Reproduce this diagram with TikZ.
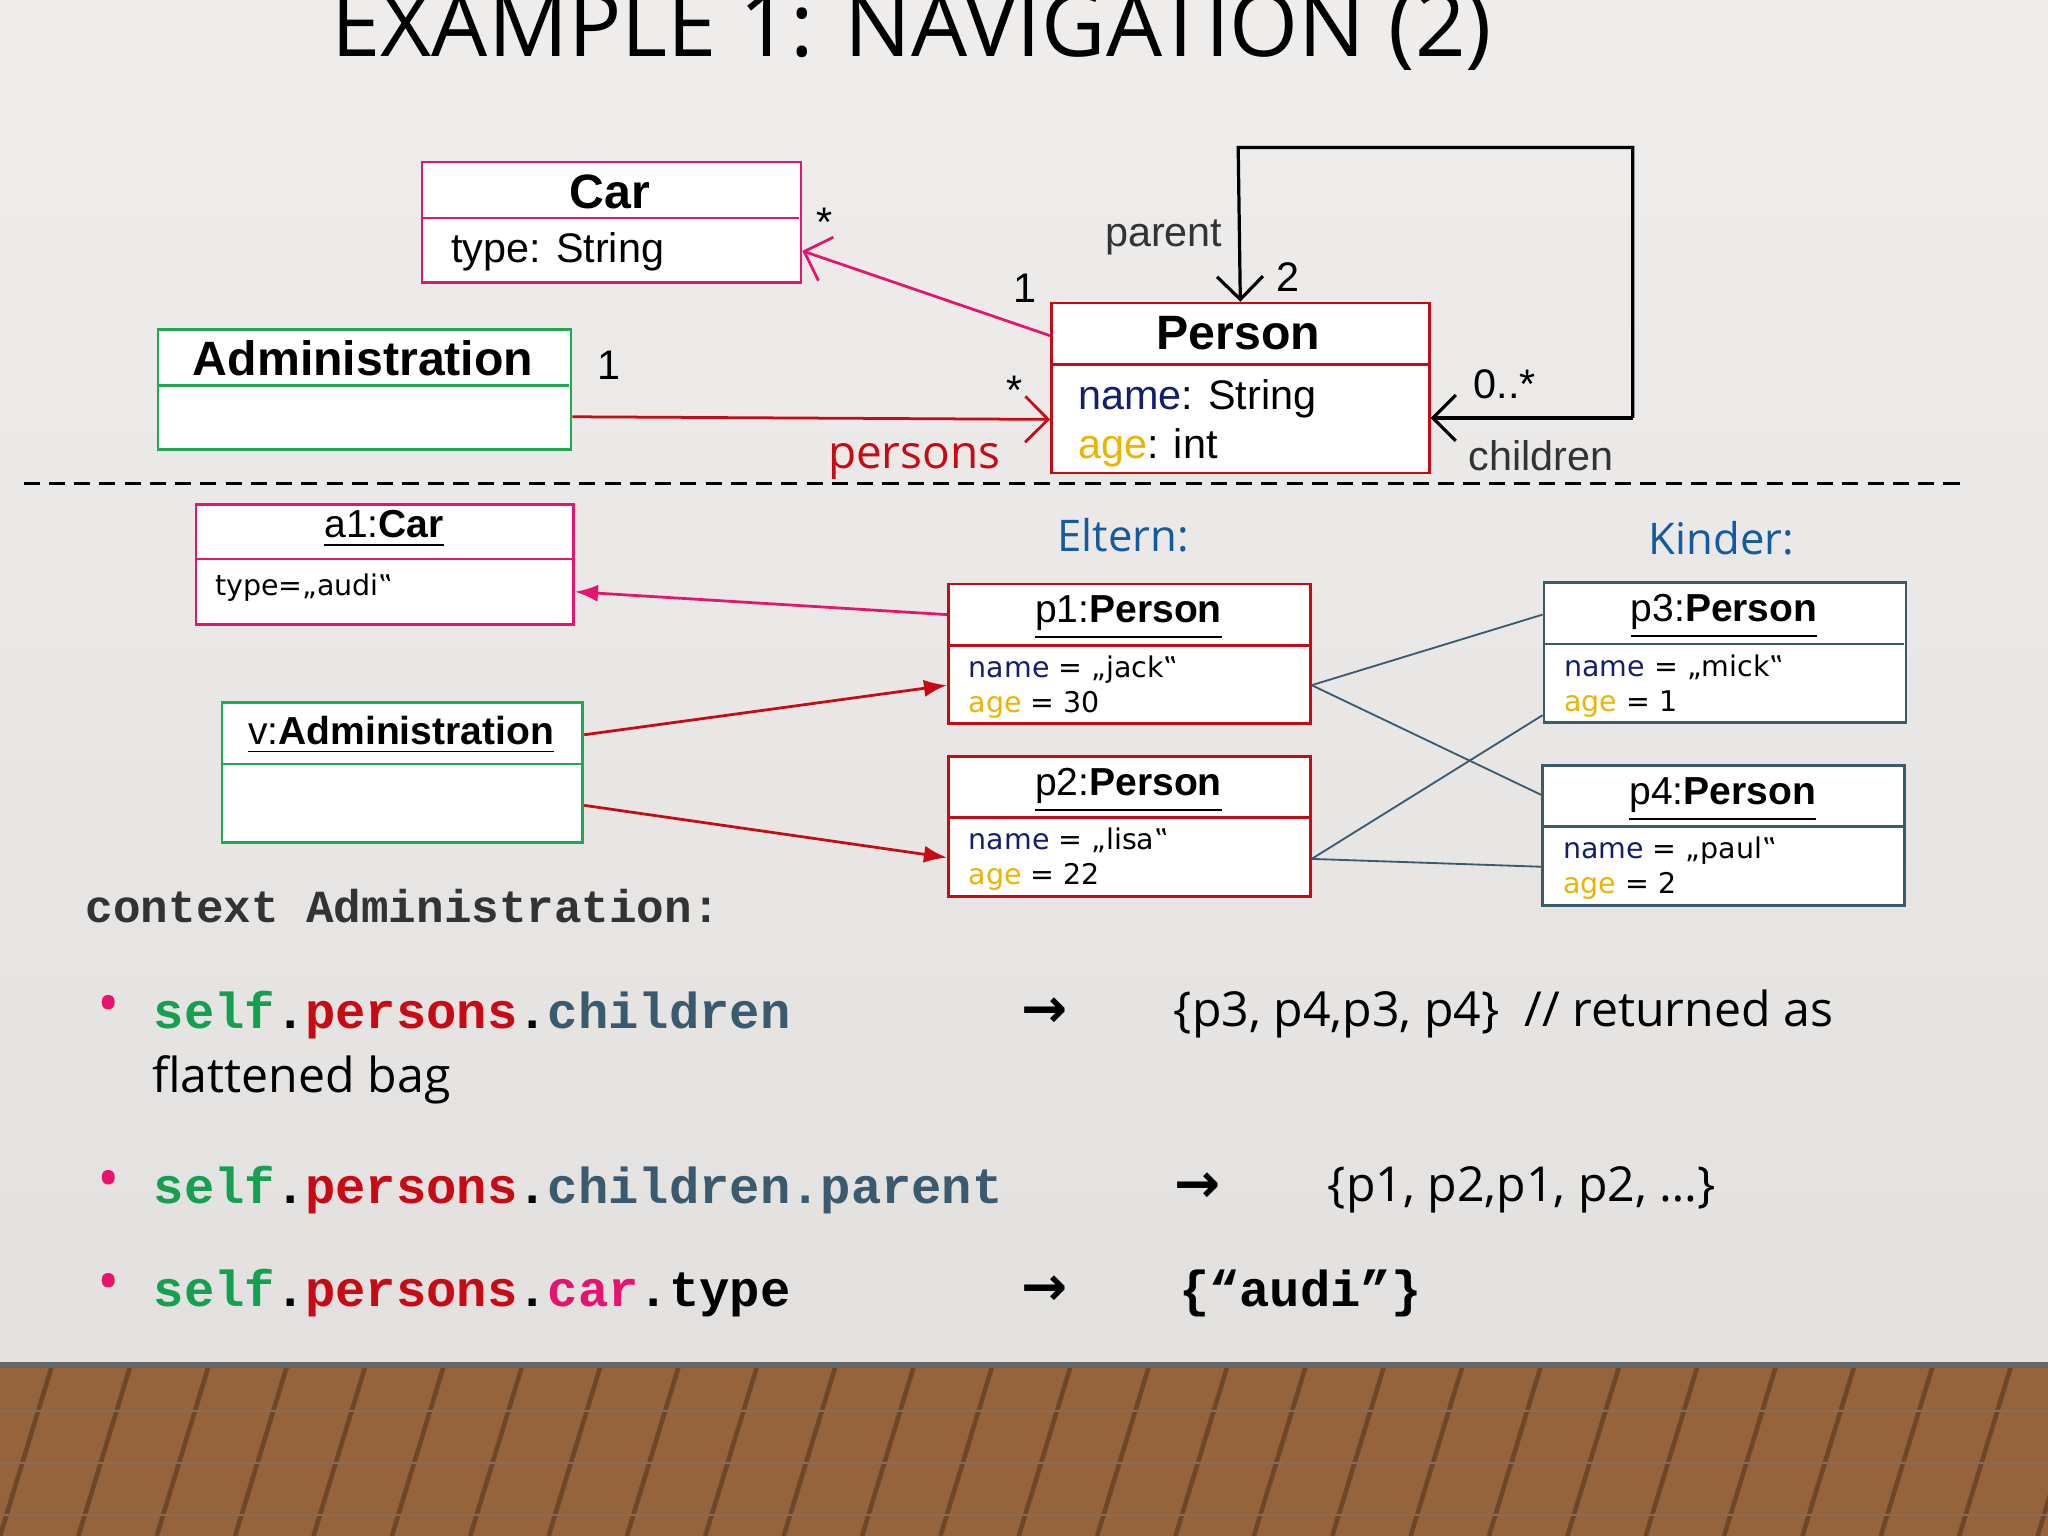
\documentclass[tikz,border=0pt]{standalone}
\usepackage{fontspec}
\setmainfont{Open Sans}
\newfontfamily\arial{Liberation Sans}
\newfontfamily\mono{Liberation Mono}
\newfontfamily\dejavu{DejaVu Sans}
\usetikzlibrary{arrows.meta,calc}
\definecolor{bg}{RGB}{232,230,228}
\definecolor{carc}{RGB}{230,20,110}
\definecolor{admc}{RGB}{30,170,80}
\definecolor{perc}{RGB}{200,10,20}
\definecolor{slate}{RGB}{60,90,110}
\definecolor{navy}{RGB}{20,30,110}
\definecolor{agec}{RGB}{235,180,0}
\definecolor{blu}{RGB}{20,90,160}
\definecolor{selfc}{RGB}{20,160,80}
\definecolor{wood}{RGB}{150,100,60}
\definecolor{woodd}{RGB}{110,70,40}
\begin{document}
\begin{tikzpicture}[x=0.01cm,y=-0.01cm,
  box/.style={draw,line width=0.6pt,inner sep=0pt,anchor=north west},
  cls/.style={font=\arial\bfseries\fontsize{10.5}{12}\selectfont},
  attr/.style={font=\arial\fontsize{9}{11}\selectfont,anchor=west},
  iname/.style={font=\arial\fontsize{8.5}{10}\selectfont},
  iattr/.style={font=\dejavu\fontsize{6.2}{7.6}\selectfont,anchor=west,align=left,inner sep=0pt},
  mult/.style={font=\arial\fontsize{9}{11}\selectfont},
  code/.style={font=\mono\bfseries\fontsize{11}{13}\selectfont,anchor=west,inner sep=0pt},
  txt/.style={font=\fontsize{10.5}{12}\selectfont,anchor=west,inner sep=0pt},
  arr/.style={font=\dejavu\bfseries\fontsize{12}{14}\selectfont}]
\useasboundingbox (0,0) rectangle (1568,1176);
\shade[top color=bg!70!white,bottom color=bg!95!gray] (0,0) rectangle (1568,1045);
\fill[wood] (0,1045) rectangle (1568,1176);
\foreach \x in {0,60,...,1560}{\draw[woodd,line width=1pt] (\x,1176) -- (\x+40,1045);}
\foreach \y in {1080,1120,1160}{\draw[woodd!80,line width=0.4pt] (0,\y) -- (1568,\y);}
\fill[black!60] (0,1043) rectangle (1568,1047);
% title
\node[font=\fontsize{19.3}{23}\selectfont] (title) at (698,24) {EXAMPLE 1: NAVIGATION (2)};
% classes
\node[box,carc,fill=white,minimum width=2.9cm,minimum height=0.92cm] (car) at (322,123) {};
\draw[carc,line width=0.6pt] (322,167) -- (612,167);
\node[cls] (carn) at (467,147) {Car};
\node[attr] (cara) at (333,193) {type: String};
\node[box,admc,fill=white,minimum width=3.16cm,minimum height=0.92cm] (adm) at (120,251) {};
\draw[admc,line width=0.6pt] (120,295) -- (436,295);
\node[cls] (admn) at (278,274) {Administration};
\node[box,perc,fill=white,minimum width=2.89cm,minimum height=1.30cm] (per) at (804,231) {};
\draw[perc,line width=0.6pt] (804,279) -- (1093,279);
\node[cls] (pern) at (948,255) {Person};
\node[attr] (pera) at (813,305) {\color{navy}name\color{black}: String};
\node[attr] (perb) at (813,343) {\color{agec}age\color{black}: int};
% associations
\draw[carc,line width=0.6pt,-{Straight Barb[length=5pt]}] ([yshift=-0.26cm]per.north west) -- ([yshift=-0.22cm]car.east);
\node[mult] (m1) at (631,170) {*};
\node[mult] (m2) at (785,221) {1};
\draw[perc,line width=0.6pt,-{Straight Barb[length=5pt]}] ([yshift=-0.21cm]adm.east) -- ([yshift=-0.24cm]per.west);
\node[mult] (m3) at (466,280) {1};
\node[mult] (m4) at (777,299) {*};
\node[font=\fontsize{10}{12}\selectfont,perc] (pl) at (700,353) {persons};
\coordinate (lt) at (948,113);
\coordinate (rt) at (1250,113);
\coordinate (rb) at (1250,320);
\draw[line width=0.7pt,-{Straight Barb[length=5pt]}] (rb) -- (rb -| per.east);
\draw[line width=0.7pt,-{Straight Barb[length=5pt]}] (rb) -- (rt) -- (lt) -- (per.north);
\node[mult,black!80] (pa) at (891,182) {parent};
\node[mult] (m5) at (986,212) {2};
\node[mult] (m6) at (1152,294) {0..*};
\node[mult,black!80] (ch) at (1180,349) {children};
\draw[dash pattern=on 3.5pt off 2pt,line width=0.6pt] (18,370) -- (1505,370);
% instances
\node[box,carc,fill=white,minimum width=2.89cm,minimum height=0.92cm] (a1) at (149,385) {};
\draw[carc,line width=0.6pt] (149,428) -- (438,428);
\node[iname] (a1n) at (294,405) {\underline{a1:\textbf{Car}}};
\node[iattr] (a1a) at (164,450) {type=„audi‟};
\node[box,admc,fill=white,minimum width=2.76cm,minimum height=1.07cm] (v) at (169,537) {};
\draw[admc,line width=0.6pt] (169,585) -- (445,585);
\node[iname] (vn) at (307,563) {\underline{v:\textbf{Administration}}};
\node[font=\fontsize{9.5}{11}\selectfont,blu] (el) at (860,410) {Eltern:};
\node[font=\fontsize{9.5}{11}\selectfont,blu] (ki) at (1318,412) {Kinder:};
\foreach \n/\x/\y/\c/\nm/\age in {p1/725/446/perc/jack/30,p2/725/578/perc/lisa/22,p3/1181/445/slate/mick/1,p4/1180/585/slate/paul/2}{
  \node[box,\c,fill=white,minimum width=2.77cm,minimum height=1.07cm] (\n) at (\x,\y) {};
  \draw[\c,line width=0.6pt] (\x,\y+48) -- (\x+277,\y+48);
  \node[iname] (\n t) at (\x+139,\y+27) {\underline{\n:\textbf{Person}}};
  \node[iattr] (\n a) at (\x+16,\y+80) {\color{navy}name \color{black}= „\nm‟\\\color{agec}age \color{black}= \age};
}
\draw[carc,line width=0.6pt,-{Latex[length=5pt]}] ([yshift=0.3cm]p1.west) -- ([yshift=-0.21cm]a1.east);
\draw[perc,line width=0.6pt,-{Latex[length=5pt]}] ([yshift=0.29cm]v.east) -- ([yshift=-0.24cm]p1.west);
\draw[perc,line width=0.6pt,-{Latex[length=5pt]}] ([yshift=-0.25cm]v.east) -- ([yshift=-0.24cm]p2.west);
\draw[slate,line width=0.4pt] ([yshift=-0.24cm]p1.east) -- ([yshift=0.29cm]p3.west);
\draw[slate,line width=0.4pt] ([yshift=-0.24cm]p1.east) -- ([yshift=0.31cm]p4.west);
\draw[slate,line width=0.4pt] ([yshift=-0.25cm]p2.east) -- ([yshift=-0.48cm]p3.west);
\draw[slate,line width=0.4pt] ([yshift=-0.25cm]p2.east) -- ([yshift=-0.24cm]p4.west);
% code
\node[code,black!80,font=\mono\bfseries\fontsize{10}{12}\selectfont] (ctx) at (65,694) {context Administration:};
\foreach \y in {777,911,990}{\node[carc,font=\fontsize{13}{14}\selectfont] at (83,\y-4) {•};}
\node[code] (c1) at (117,777) {\color{selfc}self\color{black}.\color{perc}persons\color{black}.\color{slate}children};
\node[txt] (c1b) at (116,827) {flattened bag};
\node[code] (c2) at (117,911) {\color{selfc}self\color{black}.\color{perc}persons\color{black}.\color{slate}children.parent};
\node[code] (c3) at (117,990) {\color{selfc}self\color{black}.\color{perc}persons\color{black}.\color{carc}car\color{black}.type};
\node[arr] (ar1) at (800,775) {→};
\node[arr] (ar2) at (917,909) {→};
\node[arr] (ar3) at (800,988) {→};
\node[txt] (r1) at (898,776) {\{p3, p4,p3, p4\}\ \ // returned as};
\node[txt] (r2) at (1016,911) {\{p1, p2,p1, p2, …\}};
\node[code] (r3) at (902,990) {\{\textquotedblleft audi\textquotedblright\}};
\end{tikzpicture}
\end{document}
